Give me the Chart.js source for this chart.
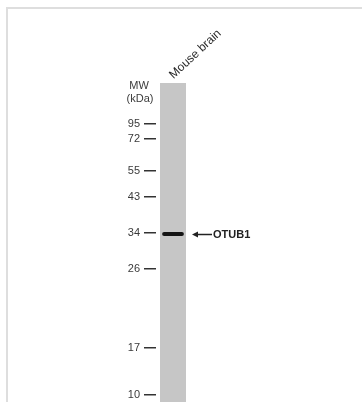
<!DOCTYPE html>
<html>
<head>
<meta charset="utf-8">
<script src="https://cdn.jsdelivr.net/npm/chart.js@4.4.1/dist/chart.umd.min.js"></script>
<style>
  html, body { margin: 0; padding: 0; background: #fff; overflow: hidden; }
  #frame {
    position: absolute; left: 6px; top: 7px; width: 600px; height: 600px;
    border-top: 2px solid #dedede; border-left: 2px solid #dedede;
  }
  #blot { position: absolute; left: 0; top: 0; }
</style>
</head>
<body>
<div id="frame"></div>
<canvas id="blot" width="362" height="402"></canvas>
<script>
const laneLabels = ['Mouse brain'];
const markerMW = [95, 72, 55, 43, 34, 26, 17, 10];          // kDa
const markerPos = [41, 56, 88, 114, 150, 186, 265, 312];    // migration from the well
const laneRange = [0, 319];
const bandRange = [149, 153];
const bandLabel = 'OTUB1';

const FONT = 'Liberation Sans, Arial, sans-serif';

// MW header and the arrow pointing at the band
const blotNotes = {
    id: 'blotNotes',
    afterDraw(chart) {
        const ctx = chart.ctx;
        const y = chart.scales.y;
        const area = chart.chartArea;
        ctx.save();
        ctx.fillStyle = '#3c3c3c';
        ctx.font = '11px ' + FONT;
        ctx.textAlign = 'center';
        ctx.textBaseline = 'middle';
        ctx.fillText('MW', 139, 86);
        ctx.fillText('(kDa)', 140, 99);

        const by = Math.round(y.getPixelForValue((bandRange[0] + bandRange[1]) / 2)) + 0.5;
        const tip = area.right + 2;
        ctx.strokeStyle = '#222';
        ctx.fillStyle = '#222';
        ctx.lineWidth = 1.5;
        ctx.beginPath();
        ctx.moveTo(tip + 4, by);
        ctx.lineTo(tip + 20, by);
        ctx.stroke();
        ctx.beginPath();
        ctx.moveTo(tip, by);
        ctx.lineTo(tip + 6, by - 3);
        ctx.lineTo(tip + 6, by + 3);
        ctx.closePath();
        ctx.fill();

        ctx.font = 'bold 11px ' + FONT;
        ctx.textAlign = 'left';
        ctx.fillText(bandLabel, tip + 21, by + 0.5);
        ctx.restore();
    }
};

new Chart(document.getElementById('blot'), {
    type: 'bar',
    data: {
        labels: laneLabels,
        datasets: [
            {
                label: 'band',
                data: [bandRange],
                backgroundColor: '#141414',
                borderRadius: 2,
                borderSkipped: false,
                barPercentage: 0.64,
                categoryPercentage: 1,
                grouped: false,
                order: 0
            },
            {
                label: 'lane',
                data: [laneRange],
                backgroundColor: '#c6c6c6',
                barPercentage: 0.765,
                categoryPercentage: 1,
                grouped: false,
                order: 1
            }
        ]
    },
    options: {
        responsive: false,
        animation: false,
        devicePixelRatio: 1,
        layout: { padding: { left: 0, right: 172, top: 0, bottom: 0 } },
        plugins: {
            legend: { display: false },
            tooltip: { enabled: false }
        },
        scales: {
            x: {
                position: 'top',
                afterFit: s => { s.height = 83; },
                grid: { display: false, drawTicks: false },
                border: { display: false },
                ticks: {
                    autoSkip: false,
                    minRotation: 43,
                    maxRotation: 43,
                    padding: 1,
                    labelOffset: 8,
                    color: '#2a2a2a',
                    font: { size: 12, family: FONT }
                }
            },
            y: {
                reverse: true,
                min: 0,
                max: 319,
                afterFit: s => { s.width = 156; s.paddingTop = 0; s.paddingBottom = 0; },
                afterBuildTicks: s => { s.ticks = markerPos.map(v => ({ value: v })); },
                grid: { drawOnChartArea: false, drawTicks: true, tickLength: 12, color: '#333', lineWidth: 1.5 },
                border: { display: false },
                ticks: {
                    autoSkip: false,
                    padding: 4,
                    color: '#3a3a3a',
                    font: { size: 11, family: FONT },
                    callback: (v, i) => markerMW[i]
                }
            }
        }
    },
    plugins: [blotNotes]
});
</script>
</body>
</html>
